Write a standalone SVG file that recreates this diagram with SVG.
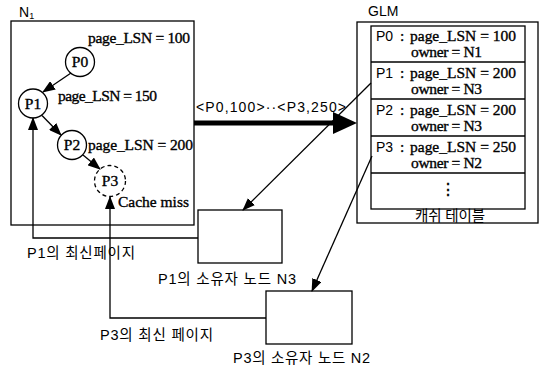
<svg xmlns="http://www.w3.org/2000/svg" width="541" height="367" viewBox="0 0 541 367">
<style>
.box{fill:none;stroke:#000;stroke-width:1.3}
.wbox{fill:#fff;stroke:#000;stroke-width:1.3}
.ser{font-family:"Liberation Serif","Times New Roman",serif;font-size:15.5px;fill:#000;stroke:#000;stroke-width:0.35}
.sans{font-family:"Liberation Sans",Arial,sans-serif;font-size:14px;fill:#000}
.kr{font-family:"Liberation Sans","Noto Sans CJK KR",sans-serif;font-size:14.5px;fill:#000}
.ln{fill:none;stroke:#000;stroke-width:1.3}
.circ{fill:#fff;stroke:#000;stroke-width:1.3}
</style>
<defs>
<marker id="ah" markerUnits="userSpaceOnUse" markerWidth="13" markerHeight="10" refX="12" refY="5" orient="auto">
<path d="M0,0 L13,5 L0,10 Z" fill="#000"/>
</marker>
</defs>
<rect width="541" height="367" fill="#fff"/>

<g id="N1">
<rect class="box" x="11" y="21" width="183" height="204"/>
<text class="sans" x="19" y="17">N<tspan font-size="9" dy="2">1</tspan></text>
</g>

<g id="P0">
<circle class="circ" cx="80" cy="62" r="14.5"/>
<text class="ser" x="80" y="67" text-anchor="middle">P0</text>
<text class="ser" x="88" y="43" textLength="102">page_LSN = 100</text>
</g>
<g id="P1">
<circle class="circ" cx="33" cy="103.5" r="14.5"/>
<text class="ser" x="33" y="108.5" text-anchor="middle">P1</text>
<text class="ser" x="58" y="101" textLength="99">page_LSN = 150</text>
</g>
<g id="P2">
<circle class="circ" cx="72" cy="145" r="14.5"/>
<text class="ser" x="72" y="150" text-anchor="middle">P2</text>
<text class="ser" x="88" y="150" textLength="105">page_LSN = 200</text>
</g>
<g id="P3">
<circle class="circ" cx="110" cy="181" r="15.5" stroke-dasharray="4,3"/>
<text class="ser" x="110" y="186" text-anchor="middle">P3</text>
<text class="ser" x="118" y="207" textLength="71">Cache miss</text>
</g>

<g id="GLM">
<rect class="box" x="357" y="22" width="181" height="201"/>
<text class="sans" x="368" y="16">GLM</text>
<rect class="box" x="371" y="26" width="154" height="183"/>
<line class="ln" x1="371" y1="62" x2="525" y2="62"/>
<line class="ln" x1="371" y1="99" x2="525" y2="99"/>
<line class="ln" x1="371" y1="136" x2="525" y2="136"/>
<line class="ln" x1="371" y1="173" x2="525" y2="173"/>
<text class="sans" x="376" y="41" font-size="15">P0</text><text class="ser" x="400" y="41">:</text>
<text class="ser" x="410" y="41" textLength="106">page_LSN = 100</text>
<text class="ser" x="411" y="57" textLength="71">owner = N1</text>
<text class="sans" x="376" y="78" font-size="15">P1</text><text class="ser" x="400" y="78">:</text>
<text class="ser" x="410" y="78" textLength="106">page_LSN = 200</text>
<text class="ser" x="411" y="94" textLength="71">owner = N3</text>
<text class="sans" x="376" y="115" font-size="15">P2</text><text class="ser" x="400" y="115">:</text>
<text class="ser" x="410" y="115" textLength="106">page_LSN = 200</text>
<text class="ser" x="411" y="131" textLength="71">owner = N3</text>
<text class="sans" x="376" y="152" font-size="15">P3</text><text class="ser" x="400" y="152">:</text>
<text class="ser" x="410" y="152" textLength="106">page_LSN = 250</text>
<text class="ser" x="411" y="168" textLength="71">owner = N2</text>
<text class="ser" x="448" y="195" text-anchor="middle">⋮</text>
<text class="kr" x="415" y="221" textLength="70">캐쉬 테이블</text>
</g>

<g id="N3">
<rect class="wbox" x="198" y="210" width="84" height="53"/>
<text class="kr" x="158" y="284" textLength="138">P1의 소유자 노드 N3</text>
</g>
<g id="N2">
<rect class="wbox" x="266" y="291" width="86" height="53"/>
<text class="kr" x="233" y="363" textLength="137">P3의 소유자 노드 N2</text>
</g>

<g id="connectors">
<line class="ln" x1="71" y1="73" x2="43" y2="92" marker-end="url(#ah)"/>
<line class="ln" x1="42" y1="115.5" x2="61" y2="135" marker-end="url(#ah)"/>
<line class="ln" x1="83" y1="155" x2="100" y2="169" marker-end="url(#ah)"/>
<line x1="194" y1="123" x2="336" y2="123" stroke="#000" stroke-width="5"/>
<path d="M333,112 L357,123 L333,134 Z" fill="#000"/>
<text class="sans" x="196" y="112" textLength="150">&lt;P0,100&gt;··&lt;P3,250&gt;</text>
<line class="ln" x1="371" y1="83" x2="243" y2="210" marker-end="url(#ah)"/>
<line class="ln" x1="372" y1="156" x2="312" y2="291" marker-end="url(#ah)"/>
<polyline class="ln" points="198,238 33,238 33,118" marker-end="url(#ah)"/>
<polyline class="ln" points="266,318 110,318 110,197" marker-end="url(#ah)"/>
<text class="kr" x="27" y="258" textLength="108">P1의 최신페이지</text>
<text class="kr" x="100" y="340" textLength="113">P3의 최신 페이지</text>
</g>
</svg>
